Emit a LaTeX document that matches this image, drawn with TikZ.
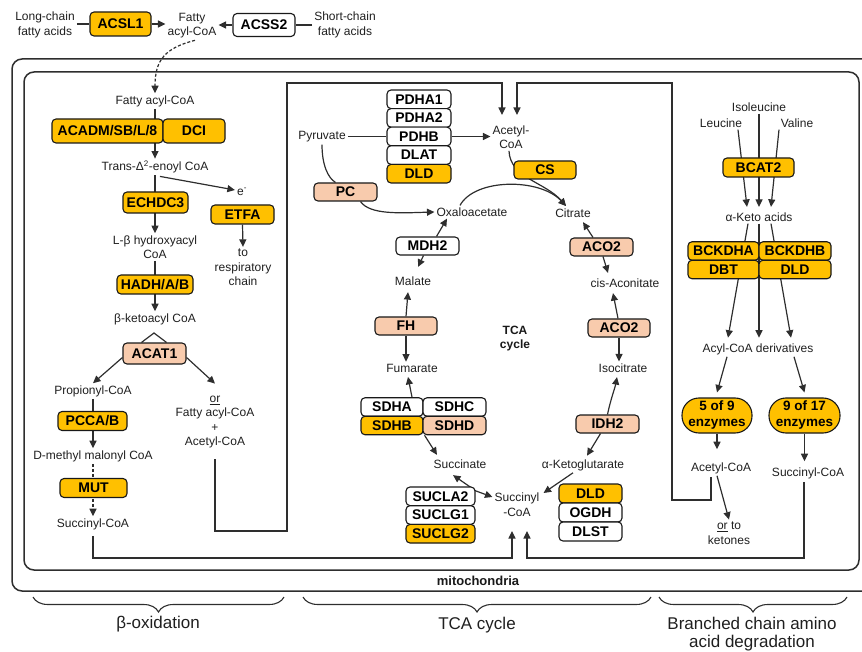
\documentclass[tikz,border=0pt]{standalone}
\usepackage{fontspec}
\setmainfont{Liberation Sans}
\usetikzlibrary{arrows.meta,decorations.pathreplacing,calc}
\definecolor{gold}{HTML}{FFC000}
\definecolor{peach}{HTML}{F8CBAD}
\definecolor{ln}{HTML}{2E2E2E}
\pgfdeclarelayer{bg}
\pgfsetlayers{bg,main}
\begin{document}
\begin{tikzpicture}[x=1pt,y=-1pt,
  con/.style={draw=ln,line width=1.2pt},
  arr/.style={-{Triangle[length=7.5pt,width=7pt]}},
  dbl/.style={{Triangle[length=7.5pt,width=7pt]}-{Triangle[length=7.5pt,width=7pt]}},
  ebox/.style={draw=black!90,line width=1.1pt,rounded corners=4pt,inner sep=0pt,
    minimum width=63pt,minimum height=18.6pt,font=\bfseries\fontsize{14}{16}\selectfont},
  eo/.style={ebox,fill=gold},
  es/.style={ebox,fill=peach},
  ew/.style={ebox,fill=white},
  txt/.style={font=\fontsize{12}{14.5}\selectfont,align=center,inner sep=2pt,text=black!88},
  lab/.style={font=\fontsize{17}{18}\selectfont,align=center,text=black!88},
  brc/.style={draw=ln,line width=1.1pt,decorate,decoration={brace,mirror,amplitude=15pt}}
]
\useasboundingbox (0,0) rectangle (862,652);
\clip (0,0) rectangle (862,652);

% outer boxes
\draw[draw=ln,line width=1.5pt,rounded corners=10pt] (12,59) rectangle (885,591);
\draw[draw=ln,line width=1.5pt,rounded corners=10pt] (24,72) rectangle (859,570);
\node[font=\bfseries\fontsize{13}{15}\selectfont,text=black!90] (mito) at (478,581) {mitochondria};

% top
\node[txt] (lc) at (45,25) {Long-chain\\fatty acids};
\node[eo,minimum width=61pt,minimum height=24pt] (acsl1) at (120.5,24) {ACSL1};
\node[txt] (fac) at (192,25.5) {Fatty\\acyl-CoA};
\node[ew,minimum width=62pt,minimum height=23pt] (acss2) at (264,25) {ACSS2};
\node[txt] (sc) at (345,25) {Short-chain\\fatty acids};

% beta oxidation
\node[txt] (fa2) at (155,101) {Fatty acyl-CoA};
\node[eo,minimum width=111pt,minimum height=24pt] (acadm) at (107.5,131) {ACADM/SB/L/8};
\node[eo,minimum width=62pt,minimum height=24pt] (dci) at (194,131) {DCI};
\node[txt] (trans) at (155,167) {Trans-Δ\textsuperscript{2}-enoyl CoA};
\node[eo,minimum width=65pt,minimum height=21pt] (echdc3) at (155.5,202.5) {ECHDC3};
\node[txt] (e) at (242,192) {e\textsuperscript{-}};
\node[eo,minimum width=63pt,minimum height=19pt] (etfa) at (242.5,214.5) {ETFA};
\node[txt] (resp) at (243,267.5) {to\\respiratory\\chain};
\node[txt] (lbh) at (155,247) {L-β hydroxyacyl\\CoA};
\node[eo,minimum width=76pt,minimum height=19pt] (hadh) at (155,284.5) {HADH/A/B};
\node[txt] (bk) at (155,319) {β-ketoacyl CoA};
\node[es,minimum width=63pt,minimum height=21pt] (acat1) at (154.5,353.5) {ACAT1};
\node[txt] (prop) at (93,391) {Propionyl-CoA};
\node[txt] (orfa) at (215,422) {\underline{or}\\Fatty acyl-CoA\\+\\Acetyl-CoA};
\node[eo,minimum width=69pt,minimum height=19pt] (pcca) at (92.5,421) {PCCA/B};
\node[txt] (dmm) at (93,456) {D-methyl malonyl CoA};
\node[eo,minimum width=67pt,minimum height=19pt] (mut) at (93.5,488) {MUT};
\node[txt] (sc1) at (93,524) {Succinyl-CoA};

% TCA
\node[txt] (pyr) at (322,137) {Pyruvate};
\node[ew,minimum width=64pt] (pdha1) at (419,99.3) {PDHA1};
\node[ew,minimum width=64pt] (pdha2) at (419,117.9) {PDHA2};
\node[ew,minimum width=64pt] (pdhb) at (419,136.5) {PDHB};
\node[ew,minimum width=64pt] (dlat) at (419,155.1) {DLAT};
\node[eo,minimum width=64pt] (dld1) at (419,173.7) {DLD};
\node[txt] (acoa) at (511,137) {Acetyl-\\CoA};
\node[eo,minimum width=62pt,minimum height=18pt] (cs) at (545,170) {CS};
\node[txt] (citrate) at (573,213) {Citrate};
\node[txt] (oaa) at (472,212) {Oxaloacetate};
\node[es,minimum height=18pt] (pc) at (345.5,192) {PC};
\node[ew,minimum height=18pt] (mdh2) at (427.5,246) {MDH2};
\node[txt] (malate) at (413,281) {Malate};
\node[es,minimum width=62pt,minimum height=18pt] (fh) at (406,326) {FH};
\node[txt] (fumarate) at (412,368) {Fumarate};
\node[font=\bfseries\fontsize{12}{14}\selectfont,align=center,text=black!90] (tcal) at (515,339) {TCA\\cycle};
\node[es,minimum height=18pt] (aco2a) at (601.5,247) {ACO2};
\node[txt] (cisac) at (625,283) {cis-Aconitate};
\node[es,minimum width=62pt,minimum height=18pt] (aco2b) at (619,328) {ACO2};
\node[txt] (isocit) at (623,368) {Isocitrate};
\node[ew,minimum width=62pt,minimum height=18.5pt] (sdha) at (392,407) {SDHA};
\node[ew,minimum width=63pt,minimum height=18.5pt] (sdhc) at (454.5,407) {SDHC};
\node[eo,minimum width=62pt,minimum height=18.5pt] (sdhb) at (392,425.5) {SDHB};
\node[es,minimum width=63pt,minimum height=18.5pt] (sdhd) at (454.5,425.5) {SDHD};
\node[txt] (succinate) at (460,464) {Succinate};
\node[es,minimum height=18pt] (idh2) at (607.5,424) {IDH2};
\node[txt] (akg) at (583,465) {α-Ketoglutarate};
\node[txt] (succoa) at (517,504.5) {Succinyl\\-CoA};
\node[ew,minimum width=69pt] (sucla2) at (440.5,496.3) {SUCLA2};
\node[ew,minimum width=69pt] (suclg1) at (440.5,515) {SUCLG1};
\node[eo,minimum width=69pt] (suclg2) at (440.5,533.7) {SUCLG2};
\node[eo,minimum width=63pt,minimum height=19pt] (dld2) at (590.5,493.5) {DLD};
\node[ew,minimum width=63pt,minimum height=19pt] (ogdh) at (590.5,512.5) {OGDH};
\node[ew,minimum width=63pt,minimum height=19pt] (dlst) at (590.5,531.5) {DLST};

% BCAA
\node[txt] (ile) at (759,107) {Isoleucine};
\node[txt] (leu) at (721,123) {Leucine};
\node[txt] (val) at (797,123) {Valine};
\node[eo,minimum width=71pt,minimum height=19pt] (bcat2) at (758.5,167.5) {BCAT2};
\node[txt] (keto) at (759,217) {α-Keto acids};
\node[eo,minimum width=71pt,minimum height=18.5pt] (bckdha) at (723.5,251) {BCKDHA};
\node[eo,minimum width=72pt,minimum height=18.5pt] (bckdhb) at (795,251) {BCKDHB};
\node[eo,minimum width=71pt,minimum height=18.5pt] (dbt) at (723.5,269.5) {DBT};
\node[eo,minimum width=72pt,minimum height=18.5pt] (dld3) at (795,269.5) {DLD};
\node[txt] (acylder) at (758,349) {Acyl-CoA derivatives};
\node[eo,rounded corners=17pt,minimum width=70pt,minimum height=35pt,align=center,
  font=\bfseries\fontsize{13.5}{16}\selectfont] (e59) at (717,415.5) {5 of 9\\enzymes};
\node[eo,rounded corners=17pt,minimum width=71pt,minimum height=35pt,align=center,
  font=\bfseries\fontsize{13.5}{16}\selectfont] (e917) at (804.5,415.5) {9 of 17\\enzymes};
\node[txt] (acoaB) at (721,468) {Acetyl-CoA};
\node[txt] (succB) at (808,473) {Succinyl-CoA};
\node[txt] (ket) at (729,533) {\underline{or} to\\ketones};

% labels
\draw[brc] (33,597) -- (284,597);
\draw[brc] (303,597) -- (651,597);
\draw[brc] (659,597) -- (847,597);
\node[lab] (lb1) at (158,624) {β-oxidation};
\node[lab] (lb2) at (477,625) {TCA cycle};
\node[lab] (lb3) at (752,634) {Branched chain amino\\acid degradation};

\coordinate (acIn1) at (502,115);
\coordinate (acIn2) at (517,115);
\coordinate (scIn1) at (512,531);
\coordinate (scIn2) at (527,531);
\coordinate (citIn) at (566,206);
\coordinate (apex) at (154,333);
\coordinate (sucj) at (476,491);

\begin{pgfonlayer}{bg}
% top
\draw[con] (acsl1.west -| lc.east) -- (acsl1.west);
\draw[con,arr] (acsl1.east) -- (acsl1.east -| fac.west);
\draw[con,arr] (acss2.west) -- (acss2.west -| fac.east);
\draw[con] (acss2.east -| sc.west) -- (acss2.east);
\draw[con,arr,dash pattern=on 3pt off 2pt] ([xshift=3pt]fac.south) .. controls (165,48) and (155,60) .. (fa2.north);
% beta ox
\draw[con,arr] (fa2.south) -- (trans.north);
\draw[con,arr] (trans.south) -- (lbh.north);
\draw[con,arr] ([xshift=5pt,yshift=-1pt]trans.south) -- ([yshift=2pt]e.west);
\draw[con,arr] (etfa.south) -- (resp.north);
\draw[con,arr] (lbh.south) -- (bk.north);
\draw[con] ([xshift=-13pt]acat1.north) -- (apex) -- ([xshift=12pt]acat1.north);
\draw[con,arr] ([yshift=-4pt]acat1.west) -- (prop.north);
\draw[con,arr] ([yshift=-4pt]acat1.east) -- ([yshift=10pt]orfa.north);
\draw[con,arr] (prop.south) -- (dmm.north);
\draw[con,arr,dash pattern=on 3pt off 2pt] (dmm.south) -- (sc1.north);
\draw[con,arr] ([yshift=-9pt]orfa.south) |- (287,531) |- (acIn1 |- 0,83) -- (acIn1);
\draw[con,arr] ([yshift=-4pt]sc1.south) |- (scIn1 |- 0,558) -- (scIn1);
% TCA
\draw[con] (pdhb.west -| pyr.east) -- (pdhb.west);
\draw[con,arr] (pdhb.east) -- (pdhb.east -| acoa.west);
\draw[con] (pyr.south) .. controls (322,165) and (328,178) .. ([xshift=-10pt]pc.north);
\draw[con,arr] ([xshift=15pt]pc.south) .. controls (370,215) and (400,213) .. (oaa.west);
\draw[con,arr] ([xshift=-12pt]oaa.north) .. controls (475,178) and (540,178) .. (citIn);
\draw[con,arr] ([xshift=-2pt]acoa.south) .. controls (510,178) and (545,182) .. (citIn);
\draw[con,arr] ([xshift=9pt]mdh2.north) -- ([xshift=-25pt]oaa.south);
\draw[con,arr] ([xshift=-4pt]mdh2.south) -- ([xshift=5pt,yshift=7.5pt]malate.north);
\draw[con,arr] (fh.north) -- ([xshift=-5pt,yshift=-4.5pt]malate.south);
\draw[con,arr] (fh.south) -- (fh.south |- fumarate.north);
\draw[con,arr] ([xshift=20pt]sdha.north) -- ([xshift=-4pt,yshift=-2.5pt]fumarate.south);
\draw[con,arr] ([xshift=1pt]sdhb.south east) -- ([xshift=-23pt,yshift=2.5pt]succinate.north);
\draw[con,dbl] ([xshift=-7pt,yshift=-4.5pt]succinate.south) -- (sucj) -- ([yshift=7.5pt]succoa.west);
\draw[con,arr] ([xshift=-10pt]akg.south) -- ([xshift=2pt,yshift=11.5pt]succoa.east);
\draw[con,arr] ([xshift=-7pt]idh2.south) -- ([xshift=4pt,yshift=1.5pt]akg.north);
\draw[con,arr] (idh2.north) .. controls (611,398) and (615,388) .. ([xshift=-6pt,yshift=-2.5pt]isocit.south);
\draw[con,arr] (aco2b.south) -- (aco2b.south |- isocit.north);
\draw[con,arr] ([xshift=-1pt]aco2b.north) -- ([xshift=-12pt,yshift=-3.5pt]cisac.south);
\draw[con,arr] ([xshift=1.5pt]aco2a.south) -- ([xshift=-17pt,yshift=3.5pt]cisac.north);
\draw[con,arr] ([xshift=-8.5pt]aco2a.north) -- ([xshift=10pt,yshift=-2.5pt]citrate.south);
% BCAA
\draw[con,arr] ([xshift=17pt]leu.south) -- ([xshift=-12pt,yshift=3.5pt]keto.north);
\draw[con,arr] (ile.south) -- ([yshift=3.5pt]keto.north);
\draw[con,arr] ([xshift=-18pt]val.south) -- ([xshift=12pt,yshift=3.5pt]keto.north);
\draw[con,arr] ([xshift=-11pt]keto.south) -- ([xshift=-30pt,yshift=3.5pt]acylder.north);
\draw[con,arr] (keto.south) -- ([xshift=1pt,yshift=3.5pt]acylder.north);
\draw[con,arr] ([xshift=12pt]keto.south) -- ([xshift=33pt,yshift=3.5pt]acylder.north);
\draw[con,arr] ([xshift=-31pt]acylder.south) -- ([yshift=5pt]e59.north);
\draw[con,arr] ([xshift=36pt]acylder.south) -- ([yshift=5pt]e917.north);
\draw[con,arr] (e59.south) -- ([xshift=-4pt,yshift=11pt]acoaB.north);
\draw[con,arr] (e917.south) -- ([xshift=-3.5pt,yshift=4pt]succB.north);
\draw[con,arr] ([xshift=-4pt]acoaB.south) -- (ket.north);
\draw[con,arr] ([xshift=-10pt,yshift=-1pt]acoaB.south) |- (672,500) |- (acIn2 |- 0,83) -- (acIn2);
\draw[con,arr] ([xshift=-4pt,yshift=-1pt]succB.south) |- (scIn2 |- 0,558) -- (scIn2);
\end{pgfonlayer}
\end{tikzpicture}
\end{document}
